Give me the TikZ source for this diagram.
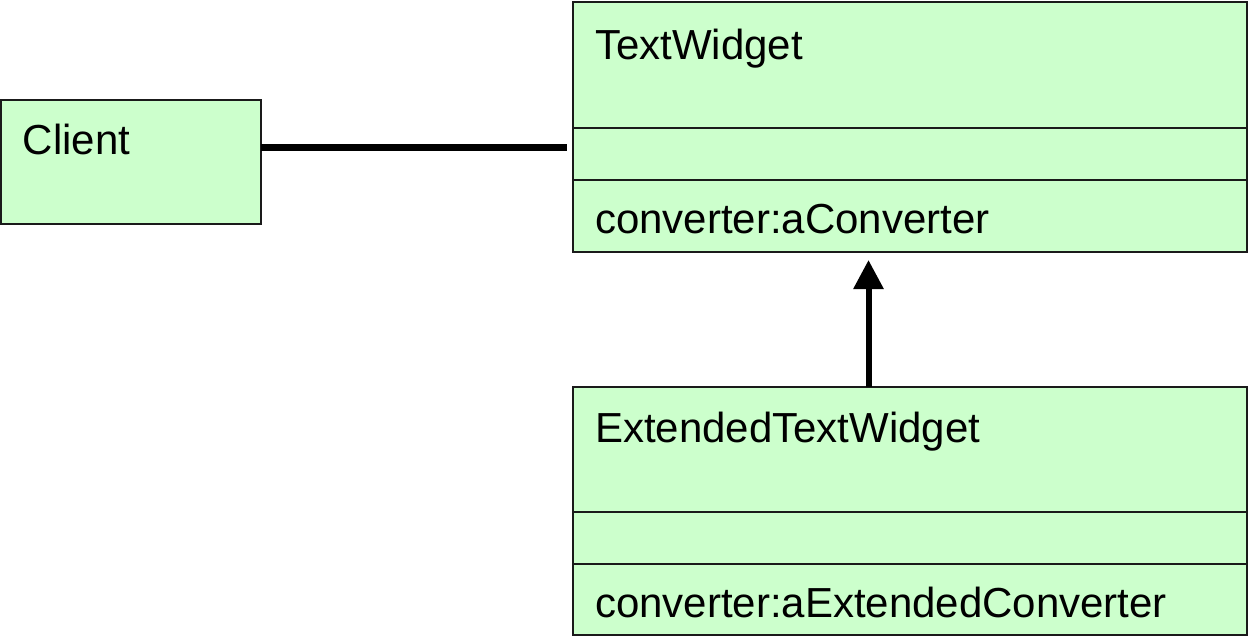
\documentclass[tikz,border=0pt]{standalone}
\usepackage{fontspec}
\setmainfont{Liberation Sans}
\usetikzlibrary{arrows.meta}
\definecolor{classfill}{HTML}{CCFFCC}
\definecolor{classline}{HTML}{1A1A1A}
\tikzset{
  classbox/.style={draw=classline, fill=classfill, line width=2pt, rectangle,
    inner sep=0pt, outer sep=0pt, anchor=north west},
  divider/.style={draw=classline, line width=2pt},
  label/.style={anchor=base west, inner sep=0pt, outer sep=0pt,
    font=\fontsize{42}{50}\selectfont, text=black},
  assoc/.style={line width=7pt, line cap=butt},
  inherit/.style={line width=6pt, -{Triangle[width=29pt,length=29pt]}}
}
\begin{document}
\begin{tikzpicture}[x=1pt,y=-1pt]
  \useasboundingbox (0,0) rectangle (1249,637);

  % class boxes
  \node[classbox, minimum width=260pt, minimum height=124pt] (client) at (1,100) {};
  \node[classbox, minimum width=674pt, minimum height=250pt] (tw) at (573,2) {};
  \node[classbox, minimum width=674pt, minimum height=248pt] (etw) at (573,387) {};

  % compartment dividers
  \draw[divider] (tw.west |- 0,127.5) -- (tw.east |- 0,127.5);
  \draw[divider] (tw.west |- 0,180) -- (tw.east |- 0,180);
  \draw[divider] (etw.west |- 0,512) -- (etw.east |- 0,512);
  \draw[divider] (etw.west |- 0,564) -- (etw.east |- 0,564);

  % labels
  \node[label] (clientname) at (23,154) {Client};
  \node[label] (twname) at (595,59) {TextWidget};
  \node[label] (twattr) at (595,233) {converter:aConverter};
  \node[label] (etwname) at (595,442) {ExtendedTextWidget};
  \node[label] (etwattr) at (595,617) {converter:aExtendedConverter};

  % association Client -- TextWidget
  \coordinate (assocend) at (567,147);
  \draw[assoc] (client.east |- assocend) -- (assocend);

  % generalization ExtendedTextWidget -> TextWidget
  \coordinate (tip) at (868.5,260);
  \draw[inherit] (etw.north -| tip) -- (tip);
\end{tikzpicture}
\end{document}
